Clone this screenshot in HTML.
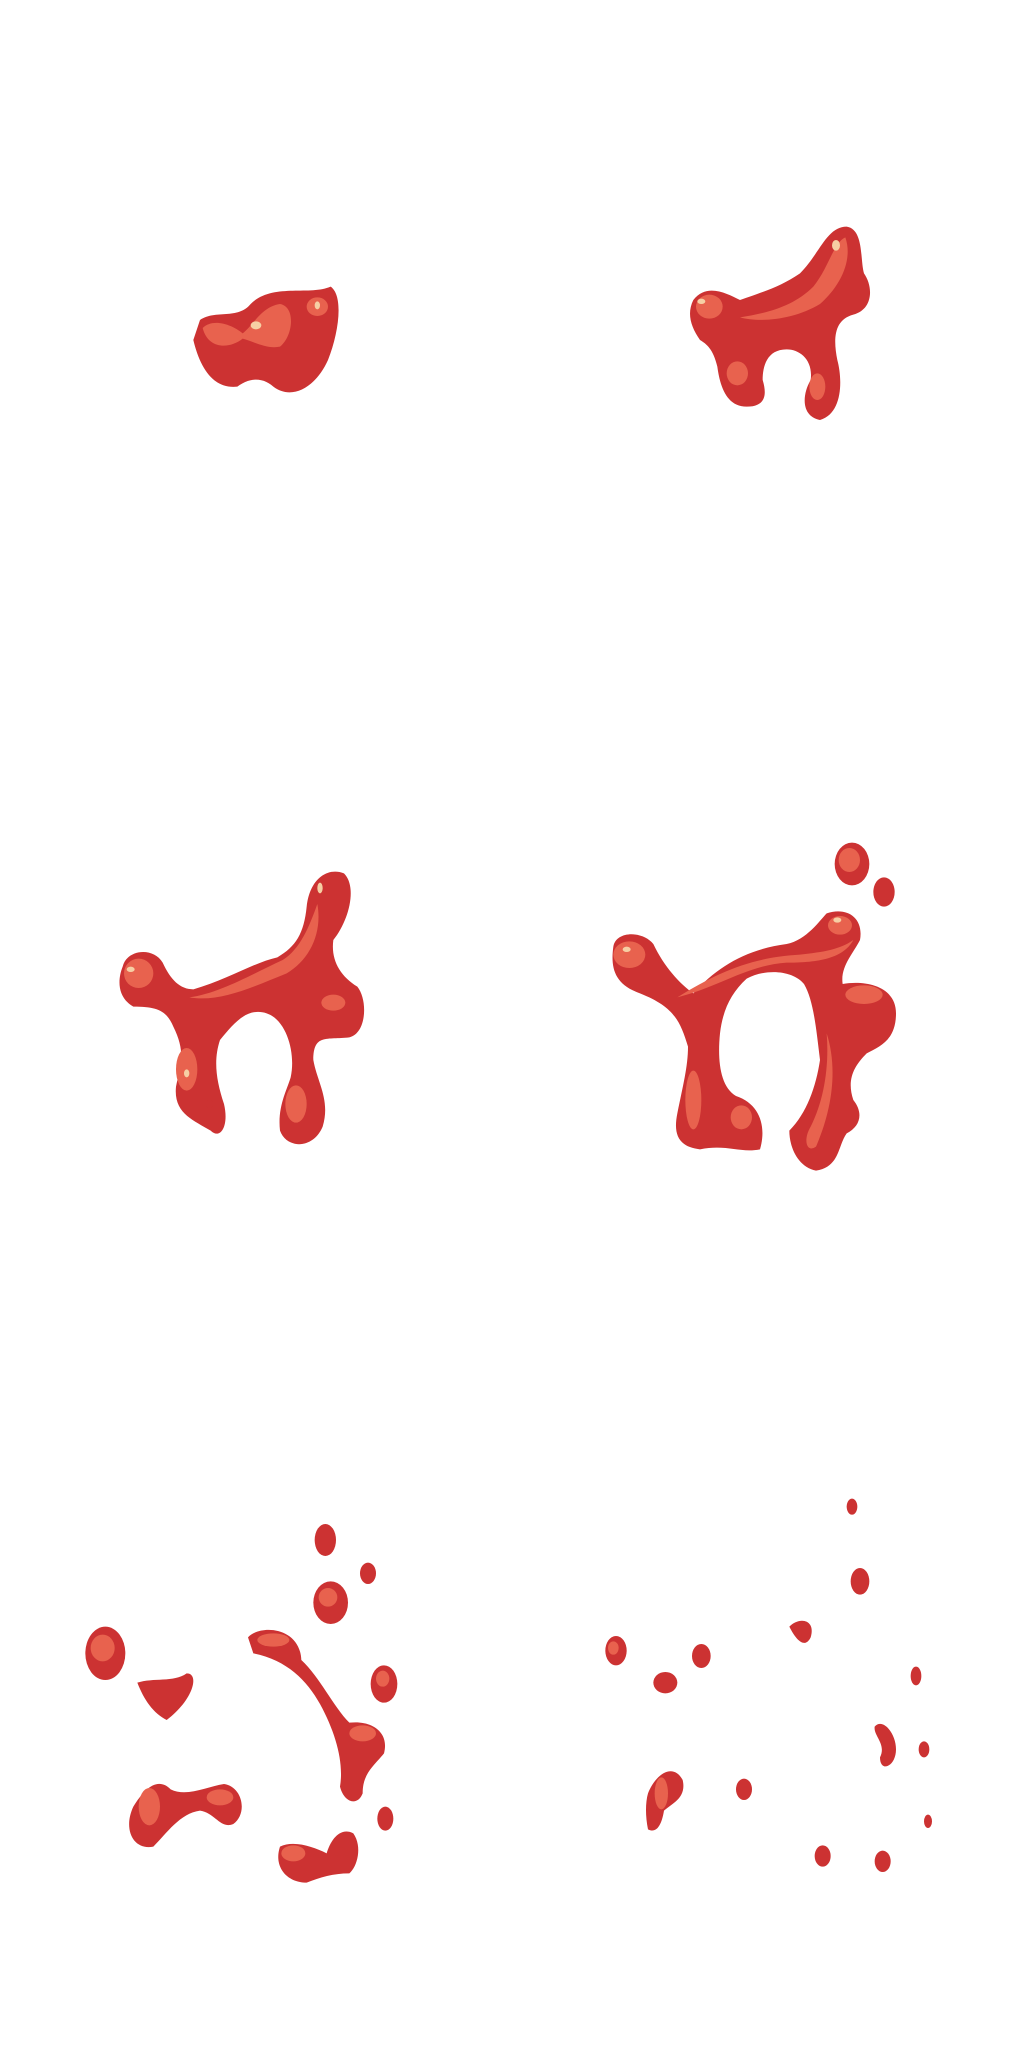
<!DOCTYPE html>
<html><head><meta charset="utf-8"><style>
html,body{margin:0;padding:0;background:#fff;}
svg{display:block;}
.b{fill:#cc3232;}
.h{fill:#e8624e;}
.s{fill:#f6cfa4;}
</style></head><body>
<svg width="1024" height="2048" viewBox="0 0 768 1536">
<g>
<path class="b" d="M150,240 C162,232 178,240 188,228 C204,212 232,222 248,215 C258,222 254,250 246,270 C236,292 218,300 205,290 C196,282 186,284 178,290 C160,292 150,276 145,255 Z"/>
<path class="h" d="M152,246 C160,238 175,244 182,250 C190,244 196,230 210,228 C222,230 220,252 210,260 C200,262 190,256 182,254 C172,262 156,262 152,246Z"/>
<ellipse class="h" cx="238" cy="230" rx="8" ry="7"/>
<ellipse class="s" cx="192" cy="244" rx="4" ry="3"/>
<ellipse class="s" cx="238" cy="229" rx="2" ry="3"/>
</g>
<g>
<path class="b" d="M520,225 C530,212 545,220 555,225 C575,218 585,215 600,205 C615,190 620,170 635,170 C648,172 645,195 648,205 C655,215 655,232 640,236 C625,240 625,255 628,270 C632,285 632,310 615,315 C600,312 602,295 608,285 C610,270 600,262 590,262 C575,262 572,275 572,285 C575,295 575,305 560,305 C545,305 540,290 538,275 C535,262 530,258 525,255 C518,245 515,235 520,225Z"/>
<ellipse class="h" cx="532" cy="230" rx="10" ry="9"/>
<path class="h" d="M555,238 C575,235 595,230 610,215 C622,200 625,182 634,178 C640,195 630,215 615,228 C595,240 570,242 555,238Z"/>
<ellipse class="h" cx="553" cy="280" rx="8" ry="9"/>
<ellipse class="h" cx="613" cy="290" rx="6" ry="10"/>
<ellipse class="s" cx="627" cy="184" rx="3" ry="4"/>
<ellipse class="s" cx="526" cy="226" rx="3" ry="2"/>
</g>
<g>
<path class="b" d="M92,725 C95,712 115,710 122,722 C128,735 135,742 145,742 C170,735 190,722 208,718 C222,710 228,700 230,680 C232,660 245,650 258,655 C268,665 262,690 250,705 C248,720 255,732 268,740 C276,750 275,775 262,778 C245,780 235,775 235,795 C238,812 248,825 242,845 C235,862 215,862 210,848 C208,830 215,818 218,808 C222,790 215,765 200,760 C185,755 175,768 165,780 C160,795 162,810 168,828 C172,845 165,855 158,848 C145,840 130,835 132,815 C135,800 140,790 130,770 C125,758 118,755 100,755 C88,748 88,735 92,725Z"/>
<ellipse class="h" cx="104" cy="730" rx="11" ry="11"/>
<path class="h" d="M142,748 C165,745 190,730 212,720 C225,712 232,695 238,678 C242,700 232,720 215,730 C190,740 165,752 142,748Z"/>
<ellipse class="h" cx="250" cy="752" rx="9" ry="6"/>
<ellipse class="h" cx="140" cy="802" rx="8" ry="16"/>
<ellipse class="h" cx="222" cy="828" rx="8" ry="14"/>
<ellipse class="b" cx="157" cy="828" rx="3" ry="3"/>
<ellipse class="s" cx="98" cy="727" rx="3" ry="2"/>
<ellipse class="s" cx="240" cy="666" rx="2" ry="4"/>
<ellipse class="s" cx="140" cy="805" rx="2" ry="3"/>
</g>
<g>
<ellipse class="b" cx="639" cy="648" rx="13" ry="16"/>
<ellipse class="h" cx="637" cy="645" rx="8" ry="9"/>
<ellipse class="b" cx="663" cy="669" rx="8" ry="11"/>
<path class="b" d="M460,710 C462,698 482,698 490,708 C498,725 510,738 520,745 C538,725 560,712 590,708 C605,705 615,690 620,685 C635,680 648,688 645,705 C640,715 630,725 632,738 C650,735 672,740 672,760 C672,780 660,785 650,790 C640,800 635,810 640,825 C648,835 645,845 635,850 C628,860 630,875 612,878 C598,875 592,860 592,848 C605,835 612,815 615,795 C612,770 610,750 603,738 C595,728 575,726 560,734 C548,745 542,758 540,775 C538,795 540,815 552,822 C570,828 575,845 570,862 C555,865 545,858 525,862 C508,860 505,850 508,835 C512,815 516,800 516,785 C510,765 505,755 480,745 C460,738 458,725 460,710Z"/>
<ellipse class="h" cx="472" cy="716" rx="12" ry="10"/>
<path class="h" d="M508,748 C540,728 565,718 600,716 C618,714 630,712 640,705 C632,720 610,722 590,722 C560,724 540,740 508,748Z"/>
<ellipse class="h" cx="630" cy="694" rx="9" ry="7"/>
<ellipse class="h" cx="648" cy="746" rx="14" ry="7"/>
<path class="h" d="M620,775 C628,800 625,830 612,860 C605,865 602,855 608,845 C618,825 622,800 620,775Z"/>
<ellipse class="h" cx="520" cy="825" rx="6" ry="22"/>
<ellipse class="h" cx="556" cy="838" rx="8" ry="9"/>
<ellipse class="s" cx="628" cy="690" rx="3" ry="2"/>
<ellipse class="s" cx="470" cy="712" rx="3" ry="2"/>
</g>
<g>
<ellipse class="b" cx="79" cy="1240" rx="15" ry="20"/><ellipse class="h" cx="77" cy="1236" rx="9" ry="10"/>
<path class="b" d="M103,1262 C115,1258 130,1262 140,1255 C150,1255 145,1275 125,1290 C115,1285 108,1275 103,1262Z"/>
<ellipse class="b" cx="244" cy="1155" rx="8" ry="12"/>
<ellipse class="b" cx="276" cy="1180" rx="6" ry="8"/>
<ellipse class="b" cx="248" cy="1202" rx="13" ry="16"/><ellipse class="h" cx="246" cy="1198" rx="7" ry="7"/>
<ellipse class="b" cx="288" cy="1263" rx="10" ry="14"/><ellipse class="h" cx="287" cy="1259" rx="5" ry="6"/>
<path class="b" d="M186,1228 C195,1218 225,1220 226,1245 C240,1258 250,1280 262,1292 C280,1290 292,1300 288,1315 C280,1325 272,1330 272,1345 C268,1355 258,1352 255,1340 C258,1322 252,1300 240,1278 C230,1260 215,1245 190,1240Z"/>
<ellipse class="h" cx="205" cy="1230" rx="12" ry="5"/>
<ellipse class="h" cx="272" cy="1300" rx="10" ry="6"/>
<ellipse class="b" cx="289" cy="1364" rx="6" ry="9"/>
<path class="b" d="M100,1355 C108,1342 118,1332 128,1342 C140,1348 155,1340 168,1338 C182,1340 186,1360 175,1368 C165,1372 162,1360 150,1358 C135,1360 125,1375 115,1385 C100,1388 92,1372 100,1355Z"/>
<ellipse class="h" cx="112" cy="1355" rx="8" ry="14"/>
<ellipse class="h" cx="165" cy="1348" rx="10" ry="6"/>
<path class="b" d="M210,1385 C220,1380 235,1385 245,1390 C248,1380 255,1370 265,1375 C272,1385 268,1400 262,1405 C250,1405 240,1408 230,1412 C215,1412 205,1400 210,1385Z"/>
<ellipse class="h" cx="220" cy="1390" rx="9" ry="6"/>
</g>
<g>
<ellipse class="b" cx="639" cy="1130" rx="4" ry="6"/>
<ellipse class="b" cx="645" cy="1186" rx="7" ry="10"/>
<path class="b" d="M592,1220 C600,1212 612,1215 608,1228 C604,1236 598,1232 592,1220Z"/>
<ellipse class="b" cx="462" cy="1238" rx="8" ry="11"/><ellipse class="h" cx="460" cy="1236" rx="4" ry="5"/>
<ellipse class="b" cx="526" cy="1242" rx="7" ry="9"/>
<ellipse class="b" cx="499" cy="1262" rx="9" ry="8"/>
<ellipse class="b" cx="687" cy="1257" rx="4" ry="7"/>
<path class="b" d="M656,1295 C662,1288 672,1300 672,1312 C672,1325 660,1330 660,1318 C665,1308 655,1302 656,1295Z"/>
<ellipse class="b" cx="693" cy="1312" rx="4" ry="6"/>
<path class="b" d="M486,1345 C492,1330 505,1322 512,1335 C515,1348 505,1352 498,1358 C496,1370 492,1375 486,1372 C484,1362 484,1352 486,1345Z"/>
<ellipse class="h" cx="496" cy="1345" rx="5" ry="12"/>
<ellipse class="b" cx="558" cy="1342" rx="6" ry="8"/>
<ellipse class="b" cx="696" cy="1366" rx="3" ry="5"/>
<ellipse class="b" cx="617" cy="1392" rx="6" ry="8"/>
<ellipse class="b" cx="662" cy="1396" rx="6" ry="8"/>
</g>
</svg>
</body></html>
